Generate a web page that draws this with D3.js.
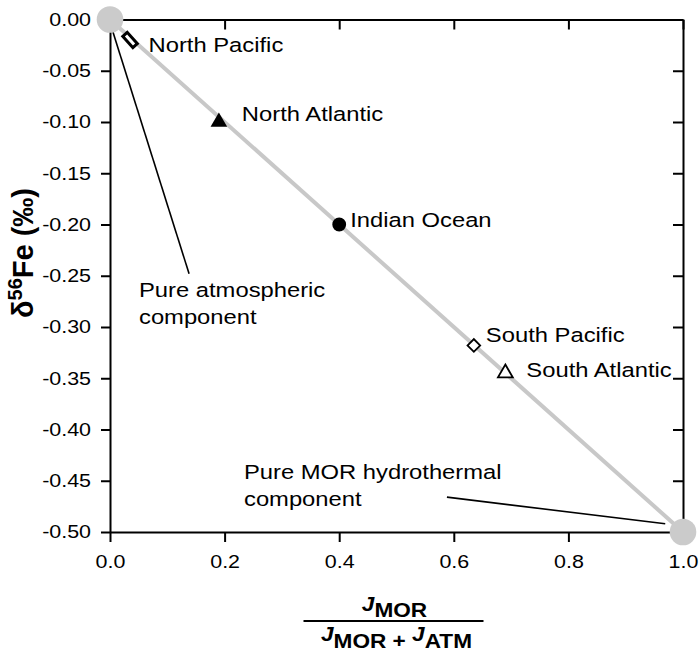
<!DOCTYPE html>
<html><head><meta charset="utf-8">
<script src="https://cdn.jsdelivr.net/npm/d3@7"></script>
<style>
body{margin:0;background:#fff}
svg{display:block}
text{font-family:"Liberation Sans",Arial,Helvetica,sans-serif;fill:#000}
</style>
</head><body>
<svg id="chart" width="699" height="656"></svg>
<script>
// ---------- data ----------
const xTicks = [0, 0.2, 0.4, 0.6, 0.8, 1.0];
const yTicks = [0, -0.05, -0.10, -0.15, -0.20, -0.25, -0.30, -0.35, -0.40, -0.45, -0.50];
const endMemberNames = ["Pure atmospheric component", "Pure MOR hydrothermal component"];
const endMemberX = [0, 1];
const endMemberY = [0, -0.5];
const basins = ["North Pacific", "North Atlantic", "Indian Ocean", "South Pacific", "South Atlantic"];
const basinX = [0.035, 0.19, 0.40, 0.635, 0.69];
const basinY = [-0.02, -0.10, -0.20, -0.318, -0.345];
const basinSymbol = ["bar", "triangleFilled", "circleFilled", "diamondOpen", "triangleOpen"];
const annotationLines = [["Pure atmospheric", "component"], ["Pure MOR hydrothermal", "component"]];
// leader lines (data space): from near end member to annotation text
const leaderFrom = [[0.005, -0.012], [0.969, -0.492]];
const leaderTo = [[0.138, -0.248], [0.588, -0.466]];

// ---------- layout ----------
const SX = 1.16; // horizontal text stretch of the original figure
const svg = d3.select("#chart");
const x = d3.scaleLinear().domain([0, 1]).range([110, 683]);
const y = d3.scaleLinear().domain([0, -0.5]).range([19.5, 532]);
const fmtY = d => d3.format(".2f")(d).replace("\u2212", "-");
const fmtX = d => d3.format(".1f")(d);

function styleAxis(g) {
  g.select(".domain").attr("stroke", "#000").attr("stroke-width", 2);
  g.selectAll(".tick line").attr("stroke", "#000").attr("stroke-width", 2);
}

// bottom axis
const gB = svg.append("g").attr("transform", `translate(0,${y(-0.5)})`)
  .call(d3.axisBottom(x).tickValues(xTicks).tickFormat(fmtX).tickSize(10).tickSizeOuter(0));
styleAxis(gB);
gB.selectAll(".tick text").attr("font-size", 18.5).attr("dy", 0).attr("y", 36)
  .attr("transform", `scale(${SX},1)`).style("font-family", '"Liberation Sans",Arial,sans-serif');

// left axis
const gL = svg.append("g").attr("transform", `translate(${x(0)},0)`)
  .call(d3.axisLeft(y).tickValues(yTicks).tickFormat(fmtY).tickSize(9).tickSizeOuter(0));
styleAxis(gL);
gL.selectAll(".tick text").attr("font-size", 18.5).attr("x", -19 / SX)
  .attr("transform", `scale(${SX},1)`).style("font-family", '"Liberation Sans",Arial,sans-serif');

// top axis (inward ticks)
const gT = svg.append("g").attr("transform", `translate(0,${y(0)})`)
  .call(d3.axisTop(x).tickValues(xTicks).tickFormat("").tickSize(-10).tickSizeOuter(0));
styleAxis(gT);

// right axis (inward ticks)
const gR = svg.append("g").attr("transform", `translate(${x(1)},0)`)
  .call(d3.axisRight(y).tickValues(yTicks).tickFormat("").tickSize(-10).tickSizeOuter(0));
styleAxis(gR);

// mixing line
svg.append("line")
  .attr("x1", x(endMemberX[0])).attr("y1", y(endMemberY[0]))
  .attr("x2", x(endMemberX[1])).attr("y2", y(endMemberY[1]))
  .attr("stroke", "#c8c8c8").attr("stroke-width", 4);

// leader lines
leaderFrom.forEach((f, i) => {
  svg.append("line")
    .attr("x1", x(f[0])).attr("y1", y(f[1]))
    .attr("x2", x(leaderTo[i][0])).attr("y2", y(leaderTo[i][1]))
    .attr("stroke", "#000").attr("stroke-width", 1.6);
});

// end members
svg.selectAll("circle.em").data(endMemberX).join("circle").attr("class", "em")
  .attr("cx", (d, i) => x(endMemberX[i])).attr("cy", (d, i) => y(endMemberY[i]))
  .attr("r", 13.3).attr("fill", "#cbcbcb");

// basin markers
const angle = Math.atan2(y(endMemberY[1]) - y(endMemberY[0]), x(endMemberX[1]) - x(endMemberX[0])) * 180 / Math.PI;
basins.forEach((b, i) => {
  const px = x(basinX[i]), py = y(basinY[i]);
  const g = svg.append("g").attr("transform", `translate(${px},${py})`);
  const s = basinSymbol[i];
  if (s === "bar") {
    g.append("rect").attr("x", -7.5).attr("y", -3).attr("width", 15).attr("height", 6)
      .attr("transform", `rotate(${angle + 6})`)
      .attr("fill", "#fff").attr("stroke", "#000").attr("stroke-width", 3);
  } else if (s === "triangleFilled") {
    g.append("path").attr("d", d3.symbol(d3.symbolTriangle, 120)()).attr("fill", "#000");
  } else if (s === "circleFilled") {
    g.append("path").attr("d", d3.symbol(d3.symbolCircle, 150)()).attr("fill", "#000");
  } else if (s === "diamondOpen") {
    g.append("path").attr("d", d3.symbol(d3.symbolSquare, 80)()).attr("transform", "rotate(45)")
      .attr("fill", "#fff").attr("stroke", "#000").attr("stroke-width", 1.8);
  } else if (s === "triangleOpen") {
    g.append("path").attr("d", d3.symbol(d3.symbolTriangle, 95)())
      .attr("fill", "#fff").attr("stroke", "#000").attr("stroke-width", 1.8);
  }
});

// basin labels (pixel offsets from marker)
const labelOffsets = [[18.5, 12], [23, -1], [11, 2], [12, -3], [21, 4]];
basins.forEach((b, i) => {
  svg.append("text")
    .attr("transform", `translate(${x(basinX[i]) + labelOffsets[i][0]},${y(basinY[i]) + labelOffsets[i][1]}) scale(${SX},1)`)
    .attr("font-size", 20.5).text(b);
});

// annotations
const annoPos = [[139, 297], [244, 479]];
annotationLines.forEach((lines, i) => {
  lines.forEach((t, j) => {
    svg.append("text")
      .attr("transform", `translate(${annoPos[i][0]},${annoPos[i][1] + j * 26.5}) scale(${SX},1)`)
      .attr("font-size", 20.5).text(t);
  });
});

// y axis title
const yt = svg.append("text")
  .attr("transform", "translate(33,253) rotate(-90)")
  .attr("text-anchor", "middle").attr("font-weight", "bold").attr("font-size", 29);
yt.append("tspan").text("\u03b4");
yt.append("tspan").attr("font-size", 20).attr("dy", -11).text("56");
yt.append("tspan").attr("dy", 11).text("Fe (\u2030)");

// x axis title (fraction)
const xc = (x(0) + x(1)) / 2;
const num = svg.append("text")
  .attr("transform", `translate(${xc - 2},611) scale(${SX},1)`)
  .attr("text-anchor", "middle").attr("font-weight", "bold").attr("font-size", 19.5);
num.append("tspan").attr("font-style", "italic").text("J");
num.append("tspan").attr("dy", 6).text("MOR");
svg.append("line").attr("x1", xc - 93).attr("x2", xc + 87).attr("y1", 621).attr("y2", 621)
  .attr("stroke", "#000").attr("stroke-width", 1.8);
const den = svg.append("text")
  .attr("transform", `translate(${xc},641) scale(${SX},1)`)
  .attr("text-anchor", "middle").attr("font-weight", "bold").attr("font-size", 19.5);
den.append("tspan").attr("font-style", "italic").text("J");
den.append("tspan").attr("dy", 7).text("MOR + ");
den.append("tspan").attr("dy", -7).attr("font-style", "italic").text("J");
den.append("tspan").attr("dy", 7).text("ATM");
</script>
</body></html>
